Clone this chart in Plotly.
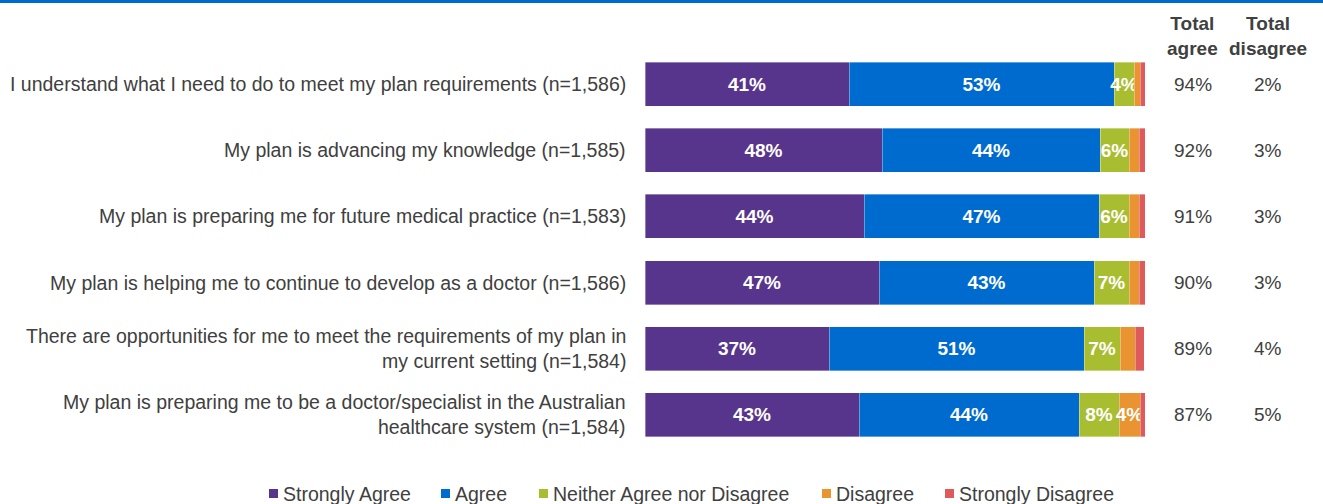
import plotly.graph_objects as go

categories = [
    "I understand what I need to do to meet my plan requirements (n=1,586)",
    "My plan is advancing my knowledge (n=1,585)",
    "My plan is preparing me for future medical practice (n=1,583)",
    "My plan is helping me to continue to develop as a doctor (n=1,586)",
    "There are opportunities for me to meet the requirements of my plan in<br>my current setting (n=1,584)",
    "My plan is preparing me to be a doctor/specialist in the Australian<br>healthcare system (n=1,584)",
]
strongly_agree = [40.8, 47.4, 43.8, 46.8, 36.8, 42.8]
agree = [53.0, 43.6, 47.0, 43.0, 51.0, 44.0]
neither = [4.0, 5.8, 6.0, 7.0, 7.2, 8.0]
disagree = [1.2, 2.0, 2.0, 2.0, 3.0, 4.2]
strongly_disagree = [1.0, 1.2, 1.2, 1.2, 1.8, 1.0]

sa_labels = ["41%", "48%", "44%", "47%", "37%", "43%"]
a_labels = ["53%", "44%", "47%", "43%", "51%", "44%"]
n_labels = ["4%", "6%", "6%", "7%", "7%", "8%"]
d_labels = ["", "", "", "", "", "4%"]
sd_labels = ["", "", "", "", "", ""]

total_agree = ["94%", "92%", "91%", "90%", "89%", "87%"]
total_disagree = ["2%", "3%", "3%", "3%", "4%", "5%"]

series = [
    ("Strongly Agree", strongly_agree, sa_labels, "#58358C"),
    ("Agree", agree, a_labels, "#006BCF"),
    ("Neither Agree nor Disagree", neither, n_labels, "#A9BD30"),
    ("Disagree", disagree, d_labels, "#E99431"),
    ("Strongly Disagree", strongly_disagree, sd_labels, "#DF5A5A"),
]

FONT = "Liberation Sans, Arial, sans-serif"
GRAY = "#404040"

fig = go.Figure()
for name, vals, labels, color in series:
    fig.add_trace(go.Bar(
        y=categories, x=vals, name=name, orientation="h",
        marker=dict(color=color, line=dict(color="rgba(255,255,255,0.6)", width=0.6)),
        text=labels, textposition="inside", insidetextanchor="middle",
        textangle=0, constraintext="none",
        textfont=dict(color="white", size=19, family=FONT, weight="bold"),
        showlegend=False, hoverinfo="x+name",
    ))

PL, PW = 645, 500
plot_top, plot_h = 51, 397
def px_x(px):
    return (px - PL) / PW
def py(px):
    return (plot_top + plot_h - px) / plot_h

annotations = []
for cat, ta, td in zip(categories, total_agree, total_disagree):
    annotations.append(dict(x=px_x(628), y=cat, xref="paper", yref="y", text=cat,
                            xanchor="right", align="right", showarrow=False,
                            font=dict(size=19.5, color=GRAY, family=FONT)))
    annotations.append(dict(x=px_x(1193), y=cat, xref="paper", yref="y", text=ta,
                            xanchor="center", showarrow=False,
                            font=dict(size=19, color=GRAY, family=FONT)))
    annotations.append(dict(x=px_x(1268), y=cat, xref="paper", yref="y", text=td,
                            xanchor="center", showarrow=False,
                            font=dict(size=19, color=GRAY, family=FONT)))

for label, xc in [("Total<br>agree", 1192), ("Total<br>disagree", 1268)]:
    annotations.append(dict(x=px_x(xc), y=py(36), xref="paper", yref="paper",
                            text="<b>" + label + "</b>", xanchor="center", yanchor="middle",
                            showarrow=False, font=dict(size=19, color=GRAY, family=FONT)))

shapes = [dict(type="rect", xref="paper", yref="paper",
               x0=px_x(0), x1=px_x(1323), y0=py(3), y1=py(0) + 0.01,
               fillcolor="#006BCF", line=dict(width=0))]

legend_pos = [269, 441, 539, 822, 945]
for (name, _, _, color), xp in zip(series, legend_pos):
    shapes.append(dict(type="rect", xref="paper", yref="paper",
                       x0=px_x(xp), x1=px_x(xp + 9), y0=py(498), y1=py(489),
                       fillcolor=color, line=dict(width=0)))
    annotations.append(dict(x=px_x(xp + 12), y=py(494), xref="paper", yref="paper",
                            text=name, xanchor="left", yanchor="middle", showarrow=False,
                            font=dict(size=19.5, color=GRAY, family=FONT)))

fig.update_layout(
    barmode="stack",
    bargap=0.333,
    width=1323, height=504,
    margin=dict(l=645, r=178, t=51, b=56),
    paper_bgcolor="white", plot_bgcolor="white",
    xaxis=dict(range=[0, 100], visible=False, fixedrange=True),
    yaxis=dict(autorange="reversed", showticklabels=False, showgrid=False,
               zeroline=False, showline=False, ticks="", fixedrange=True),
    uniformtext=dict(minsize=19, mode="show"),
    annotations=annotations,
    shapes=shapes,
    showlegend=False,
)

fig.write_html("out.html", config={"displayModeBar": False},
               post_script="document.body.style.margin='0';")
